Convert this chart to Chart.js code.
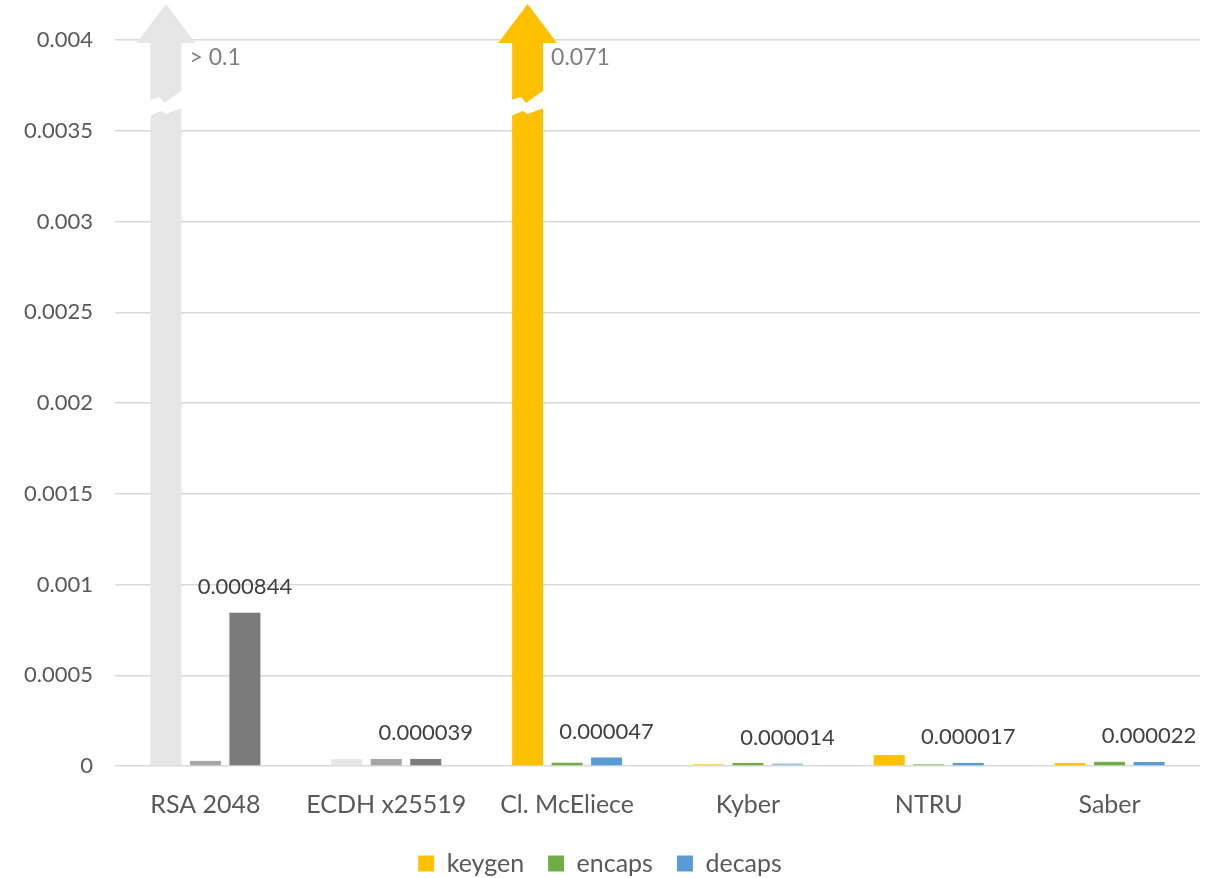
<!DOCTYPE html>
<html>
<head>
<meta charset="utf-8">
<script src="https://cdn.jsdelivr.net/npm/chart.js@4.4.1/dist/chart.umd.min.js"></script>
<style>
  html, body { margin: 0; padding: 0; background: #fff; }
  #chart { display: block; }
</style>
</head>
<body>
<canvas id="chart" width="1214" height="878"></canvas>
<script>
// Run times in seconds, per scheme
const categories = ['RSA 2048', 'ECDH x25519', 'Cl. McEliece', 'Kyber', 'NTRU', 'Saber']
const keygen = [0.1, 0.000038, 0.071, 0.000011, 0.000060, 0.000016]
const encaps = [0.000028, 0.000039, 0.000018, 0.000017, 0.000011, 0.000023]
const decaps = [0.000844, 0.000039, 0.000047, 0.000014, 0.000017, 0.000022]
// keygen for RSA is only known as a lower bound
const keygenLowerBound = [true, false, false, false, false, false]
const seriesNames = ['keygen', 'encaps', 'decaps']
const yMax = 0.004
const yStep = 0.0005

const FONT = 'Lato, "Open Sans", sans-serif'
const seriesColors = ['#FFC000', '#70AD47', '#5B9BD5']
// classical schemes are greyed out, a few small bars are faded
const keygenColors = ['#E7E6E6', '#E7E6E6', '#FFC000', '#FFD966', '#FFC000', '#FFC000']
const encapsColors = ['#A5A5A5', '#A5A5A5', '#70AD47', '#70AD47', '#A9D18E', '#70AD47']
const decapsColors = ['#7B7B7B', '#7B7B7B', '#5B9BD5', '#9DC3E6', '#5B9BD5', '#5B9BD5']

// bars taller than the axis get a break mark and an arrow head
const overflowMarks = {
  id: 'overflowMarks',
  afterDatasetsDraw(chart) {
    const { ctx, chartArea, scales: { y } } = chart
    const meta = chart.getDatasetMeta(0)
    meta.data.forEach((bar, i) => {
      const v = keygen[i]
      if (v <= y.max) return
      const half = bar.width / 2
      const left = bar.x - half
      const w = bar.width
      const base = chartArea.top + 3

      ctx.save()
      ctx.fillStyle = keygenColors[i]
      ctx.fillRect(left, base - 1, w, chartArea.top - base + 4)
      ctx.beginPath()
      ctx.moveTo(bar.x - half * 1.9, base)
      ctx.lineTo(bar.x, base - 39)
      ctx.lineTo(bar.x + half * 1.9, base)
      ctx.closePath()
      ctx.fill()

      // zigzag break
      const y0 = chartArea.top + 60
      const top = [[0, 0], [0.3, -3], [0.45, 3], [1, -10]]
      const bottom = [[1, 8], [0.5, 14], [0.35, 11], [0, 16]]
      ctx.fillStyle = '#ffffff'
      ctx.beginPath()
      top.concat(bottom).forEach(([t, dy], k) => {
        const px = left - 1 + t * (w + 2)
        if (k === 0) ctx.moveTo(px, y0 + dy)
        else ctx.lineTo(px, y0 + dy)
      })
      ctx.closePath()
      ctx.fill()

      ctx.fillStyle = '#7F7F7F'
      ctx.font = '23px ' + FONT
      ctx.textAlign = 'left'
      ctx.textBaseline = 'middle'
      ctx.fillText((keygenLowerBound[i] ? '> ' : '') + v, bar.x + half + 8, chartArea.top + 18)
      ctx.restore()
    })
  }
}

// value labels over the decaps bars
const decapsLabels = {
  id: 'decapsLabels',
  afterDatasetsDraw(chart) {
    const { ctx } = chart
    const meta = chart.getDatasetMeta(2)
    ctx.save()
    ctx.fillStyle = '#404040'
    ctx.font = '22px ' + FONT
    ctx.textAlign = 'center'
    ctx.textBaseline = 'middle'
    meta.data.forEach((bar, i) => {
      ctx.fillText(decaps[i].toFixed(6), bar.x, bar.y - 26)
    })
    ctx.restore()
  }
}

const ctx = document.getElementById('chart').getContext('2d')
new Chart(ctx, {
  type: 'bar',
  data: {
    labels: categories,
    datasets: [
      { label: seriesNames[0], data: keygen, backgroundColor: keygenColors },
      { label: seriesNames[1], data: encaps, backgroundColor: encapsColors },
      { label: seriesNames[2], data: decaps, backgroundColor: decapsColors }
    ]
  },
  options: {
    responsive: false,
    animation: false,
    categoryPercentage: 0.655,
    barPercentage: 0.785,
    layout: {
      padding: { top: 40, left: 0, right: 14, bottom: -8 }
    },
    scales: {
      x: {
        grid: { display: false },
        border: { display: false },
        ticks: {
          color: '#595959',
          font: { family: FONT, size: 25 },
          padding: 16,
          maxRotation: 0
        },
        afterFit(scale) { scale.height = 61 }
      },
      y: {
        min: 0,
        max: yMax,
        border: { display: false },
        grid: { color: '#D9D9D9', lineWidth: 1.5, drawTicks: false },
        ticks: {
          stepSize: yStep,
          color: '#595959',
          font: { family: FONT, size: 22 },
          padding: 22,
          callback: v => String(+v.toFixed(4))
        },
        afterFit(scale) { scale.width = 115 }
      }
    },
    plugins: {
      tooltip: { enabled: false },
      legend: {
        position: 'bottom',
        labels: {
          color: '#595959',
          font: { family: FONT, size: 25 },
          boxWidth: 16,
          boxHeight: 16,
          padding: 24,
          generateLabels: () => seriesNames.map((name, i) => ({
            text: name,
            fillStyle: seriesColors[i],
            strokeStyle: seriesColors[i],
            lineWidth: 0,
            fontColor: '#595959',
            datasetIndex: i
          }))
        }
      }
    }
  },
  plugins: [overflowMarks, decapsLabels]
})
</script>
</body>
</html>
